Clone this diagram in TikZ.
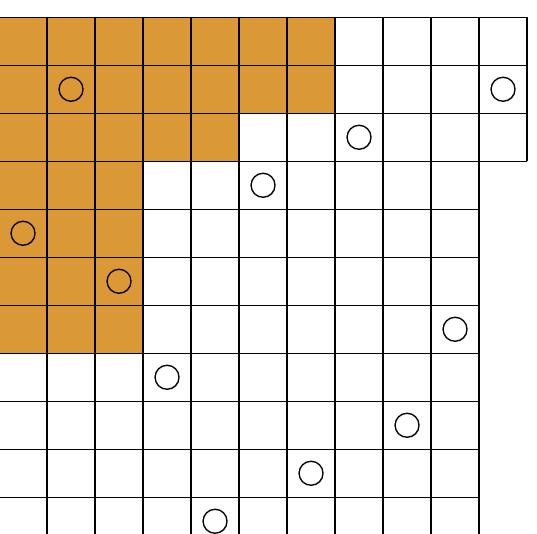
\documentclass[tikz,border=0pt]{standalone}
\usepackage{tikz}
\usetikzlibrary{positioning}
\definecolor{gold}{RGB}{218,152,54}
\tikzset{
	stone/.style={circle, draw, line width=0.8pt, minimum size=0.5cm, inner sep=0pt},
	gridline/.style={line width=0.75pt}
}

\begin{document}
\begin{tikzpicture}

	\useasboundingbox (0.02,0.36) rectangle (11.2075,-10.765);

	% shaded staircase
	\fill[gold] (0,0) rectangle (7,-2);
	\fill[gold] (0,-2) rectangle (5,-3);
	\fill[gold] (0,-3) rectangle (3,-7);

	% the board
	\draw[gridline, step=1] (0,-3) grid (11,0);
	\draw[gridline, step=1] (0,-11) grid (10,-3);

	% markers
	\node[stone] (r1a) at (1.5, -1.5) {};
	\node[stone] (r1b) at (10.5, -1.5) {};
	\node[stone] (r2) at (7.5, -2.5) {};
	\node[stone] (r3) at (5.5, -3.5) {};
	\node[stone] (r4) at (0.5, -4.5) {};
	\node[stone] (r5) at (2.5, -5.5) {};
	\node[stone] (r6) at (9.5, -6.5) {};
	\node[stone] (r7) at (3.5, -7.5) {};
	\node[stone] (r8) at (8.5, -8.5) {};
	\node[stone] (r9) at (6.5, -9.5) {};
	\node[stone] (r10) at (4.5, -10.5) {};

\end{tikzpicture}
\end{document}
